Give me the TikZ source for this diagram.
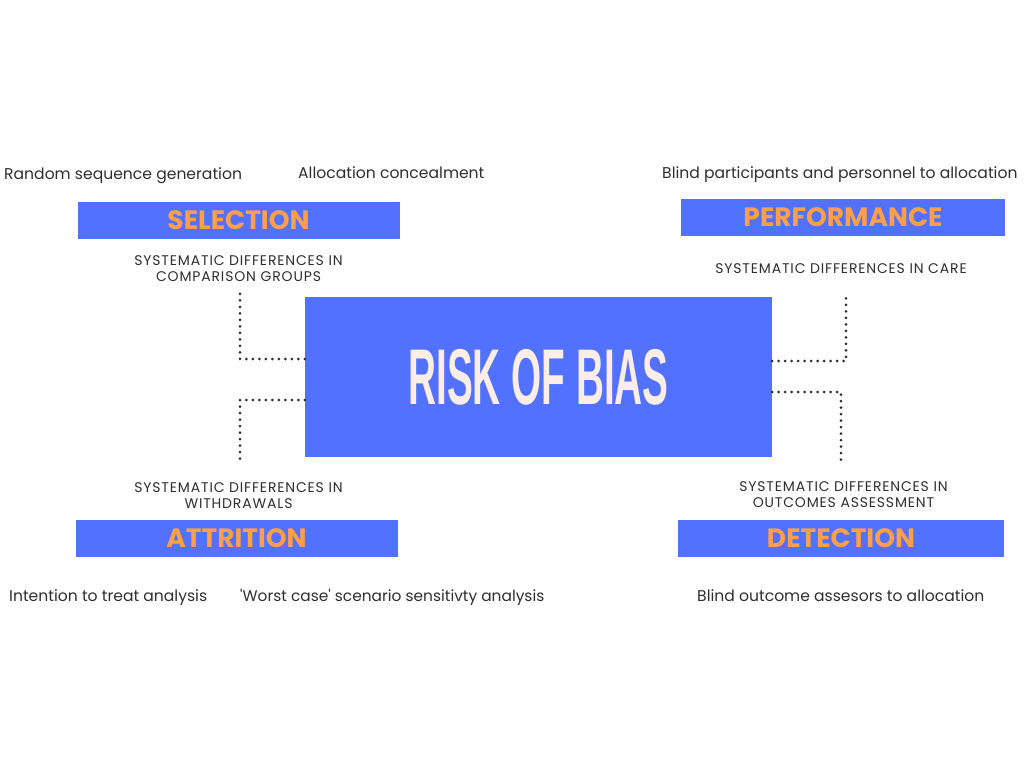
\documentclass[tikz,border=0pt]{standalone}
\usepackage{fontspec}
\setmainfont{Poppins}
\newfontfamily\titlefont{Liberation Sans}
\usepackage{tikz}
\usetikzlibrary{positioning}
\definecolor{boxblue}{HTML}{5271FF}
\definecolor{catorange}{HTML}{FF9F4A}
\definecolor{cream}{HTML}{FCEEE6}
\definecolor{inkgrey}{HTML}{2E2E2E}

\begin{document}
\begin{tikzpicture}[x=1pt,y=-1pt,
	catbox/.style={fill=boxblue,minimum width=322pt,minimum height=37pt,inner sep=0pt,
		text=catorange,font=\fontsize{26.5}{28}\selectfont\bfseries},
	method/.style={text=inkgrey,inner sep=0pt,anchor=base west,font=\fontsize{15.6}{18}\selectfont},
	differ/.style={text=inkgrey,inner sep=0pt,align=center,
		font=\fontsize{14}{16}\selectfont\addfontfeature{LetterSpace=6}},
	dotline/.style={inkgrey,line width=3pt,line cap=round,dash pattern=on 0pt off 6.5pt}]
	\useasboundingbox (0,0) rectangle (1024,768);
	% centre
	\node[fill=boxblue,minimum width=467pt,minimum height=160pt,inner sep=0pt] (rob) at (538.5,377)
		{\raisebox{-9pt}{\titlefont\bfseries\color{cream}\fontsize{79}{80}\selectfont\scalebox{0.49}[1]{RISK OF BIAS}}};
	% categories
	\node[catbox] (sel) at (238.5,220.5) {SELECTION};
	\node[catbox,minimum width=324pt] (perf) at (843,217.5) {PERFORMANCE};
	\node[catbox] (att) at (236.5,538.5) {ATTRITION};
	\node[catbox,minimum width=326pt] (det) at (841,538.5) {DETECTION};
	% methods
	\node[method] (rsg) at (4,179) {Random sequence generation};
	\node[method] (alc) at (298,178) {Allocation concealment};
	\node[method] (bpp) at (662,178) {Blind participants and personnel to allocation};
	\node[method] (itt) at (9,601) {Intention to treat analysis};
	\node[method,font=\fontsize{15.4}{18}\selectfont] (wcs) at (240,601) {\textquotesingle Worst case\textquotesingle{} scenario sensitivty analysis};
	\node[method] (boa) at (697,601) {Blind outcome assesors to allocation};
	% systematic differences
	\node[differ] (cmp) at (238.5,268.5) {SYSTEMATIC DIFFERENCES IN\\COMPARISON GROUPS};
	\node[differ] (care) at (841,268.5) {SYSTEMATIC DIFFERENCES IN CARE};
	\node[differ] (wdr) at (238.5,495.5) {SYSTEMATIC DIFFERENCES IN\\WITHDRAWALS};
	\node[differ] (oca) at (843.5,494.5) {SYSTEMATIC DIFFERENCES IN\\OUTCOMES ASSESSMENT};
	% connectors
	\coordinate (selend) at (240,291);
	\coordinate (attend) at (240,463);
	\coordinate (perfend) at (846,293);
	\coordinate (detend) at (841,466);
	\draw[dotline] ([yshift=18pt]rob.west) -| (selend);
	\draw[dotline] ([yshift=-23pt]rob.west) -| (attend);
	\draw[dotline] ([yshift=16pt]rob.east) -| (perfend);
	\draw[dotline] ([yshift=-15pt]rob.east) -| (detend);
\end{tikzpicture}
\end{document}
